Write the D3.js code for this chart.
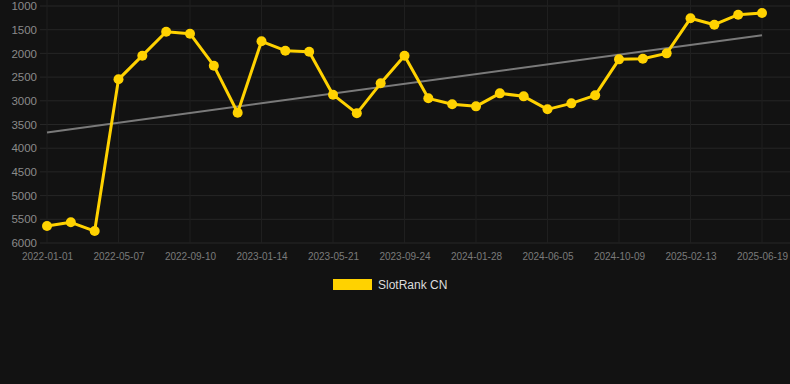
<!DOCTYPE html>
<html><head><meta charset="utf-8">
<script src="https://cdn.jsdelivr.net/npm/d3@7"></script>
<style>html,body{margin:0;padding:0;background:#121212;}svg{display:block;}</style>
</head><body>
<svg id="c" width="790" height="384"></svg>
<script>
const dates = ["2022-01-01","2022-02-12","2022-03-26","2022-05-07","2022-06-18","2022-07-30","2022-09-10","2022-10-22","2022-12-03","2023-01-14","2023-02-25","2023-04-08","2023-05-21","2023-07-02","2023-08-13","2023-09-24","2023-11-05","2023-12-17","2024-01-28","2024-03-10","2024-04-22","2024-06-05","2024-07-17","2024-08-28","2024-10-09","2024-11-20","2025-01-02","2025-02-13","2025-03-27","2025-05-08","2025-06-19"];
const ranks = [5642,5564,5748,2547,2048,1542,1584,2259,3251,1745,1943,1964,2871,3264,2631,2048,2948,3074,3117,2843,2906,3180,3054,2885,2126,2111,1999,1260,1394,1183,1148];
const yTicks = [1000,1500,2000,2500,3000,3500,4000,4500,5000,5500,6000];
const xTickLabels = ["2022-01-01","2022-05-07","2022-09-10","2023-01-14","2023-05-21","2023-09-24","2024-01-28","2024-06-05","2024-10-09","2025-02-13","2025-06-19"];
const seriesName = "SlotRank CN";

(function () {
const svg = d3.select("#c");
const plotLeft = 40, plotRight = 790, plotTop = 6, plotBottom = 243;
const x = d3.scalePoint().domain(dates).range([47, 762]);
const y = d3.scaleLinear().domain([1000, 6000]).range([plotTop, plotBottom]);

// grid
const g = svg.append("g");
g.selectAll("line.h").data(yTicks).enter().append("line")
  .attr("x1", plotLeft).attr("x2", plotRight)
  .attr("y1", d => y(d)).attr("y2", d => y(d))
  .attr("stroke", "#262626").attr("stroke-width", 1);
g.selectAll("line.v").data(xTickLabels).enter().append("line")
  .attr("x1", d => x(d)).attr("x2", d => x(d))
  .attr("y1", 0).attr("y2", plotBottom)
  .attr("stroke", "#1f1f1f").attr("stroke-width", 1);

// y axis
const yAxis = d3.axisLeft(y).tickValues(yTicks).tickSize(0).tickPadding(0).tickFormat(d3.format("d"));
const ya = svg.append("g").attr("transform", "translate(37,0)").call(yAxis);
ya.select(".domain").remove();
ya.selectAll("text").attr("fill", "#8a8a8a").style("font-family", "Arial, 'Liberation Sans', sans-serif").style("font-size", "11.5px");

// x axis
const xAxis = d3.axisBottom(x).tickValues(xTickLabels).tickSize(0).tickPadding(0);
const xa = svg.append("g").attr("transform", "translate(0,253)").call(xAxis);
xa.select(".domain").remove();
xa.selectAll("text").attr("fill", "#7a7a7a").style("font-family", "Arial, 'Liberation Sans', sans-serif").style("font-size", "10px");

// trend line (least squares over index)
const n = ranks.length;
const mx = d3.mean(d3.range(n)), my = d3.mean(ranks);
const slope = d3.sum(ranks, (v, i) => (i - mx) * (v - my)) / d3.sum(d3.range(n), i => (i - mx) ** 2);
const icpt = my - slope * mx;
svg.append("line")
  .attr("x1", x(dates[0])).attr("y1", y(icpt))
  .attr("x2", x(dates[n - 1])).attr("y2", y(icpt + slope * (n - 1)))
  .attr("stroke", "#7a7a7a").attr("stroke-width", 2);

// series line
const color = "#FFD200";
svg.append("path").datum(ranks)
  .attr("fill", "none").attr("stroke", color).attr("stroke-width", 3).attr("stroke-linejoin", "round")
  .attr("d", d3.line().x((d, i) => x(dates[i])).y(d => y(d)));
svg.selectAll("circle.pt").data(ranks).enter().append("circle")
  .attr("cx", (d, i) => x(dates[i])).attr("cy", d => y(d)).attr("r", 5)
  .attr("fill", color);

// legend
const lg = svg.append("g");
lg.append("rect").attr("x", 333).attr("y", 279).attr("width", 39).attr("height", 11).attr("fill", color);
lg.append("text").attr("x", 378).attr("y", 289).text(seriesName)
  .attr("fill", "#dcdcdc").style("font-family", "Arial, 'Liberation Sans', sans-serif").style("font-size", "12px");
})();
</script>
</body></html>
